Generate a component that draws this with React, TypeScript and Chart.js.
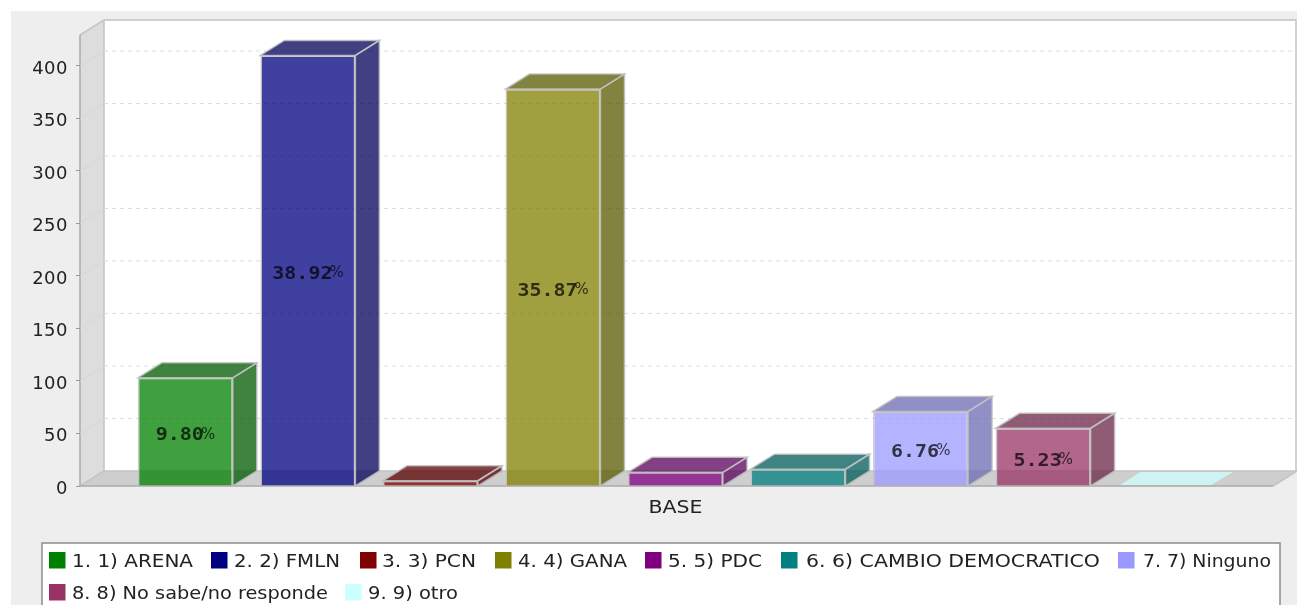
import React, { useEffect, useRef } from "react";
import { Chart, registerables } from "chart.js";

Chart.register(...registerables);

const categories = ["BASE"];
const seriesNames = [
  "1. 1) ARENA",
  "2. 2) FMLN",
  "3. 3) PCN",
  "4. 4) GANA",
  "5. 5) PDC",
  "6. 6) CAMBIO DEMOCRATICO",
  "7. 7) Ninguno",
  "8. 8) No sabe/no responde",
  "9. 9) otro",
];
const seriesValues = [103, 410, 5, 378, 13, 16, 71, 55, 0];
const percentLabels = ["9.80", "38.92", "", "35.87", "", "", "6.76", "5.23", ""];
const seriesRgb = [
  [0, 128, 0],
  [0, 0, 128],
  [128, 0, 0],
  [128, 128, 0],
  [128, 0, 128],
  [0, 128, 128],
  [153, 153, 255],
  [153, 51, 102],
  [204, 255, 255],
];
const yTicks = [0, 50, 100, 150, 200, 250, 300, 350, 400];

// legend layout, not data: swatch left, text left, text right, row
const legendSlots = [
  [49, 72, 193, 0],
  [211, 234, 340, 0],
  [360, 382, 476, 0],
  [495, 518, 627, 0],
  [645, 668, 762, 0],
  [781, 806, 1100, 0],
  [1118, 1143, 1271, 0],
  [49, 72, 328, 1],
  [345, 368, 458, 1],
];
const legendRowY = [561, 593];

const DEPTH_X = 24;
const DEPTH_Y = 15;
const RIGHT_EXTRA = 2;
const FONT = "'DejaVu Sans'";

const rgba = (c: number[], a: number, f = 1) =>
  `rgba(${Math.round(c[0] * f)},${Math.round(c[1] * f)},${Math.round(c[2] * f)},${a})`;

function poly(ctx: CanvasRenderingContext2D, pts: number[][]) {
  ctx.beginPath();
  pts.forEach((p, i) => (i ? ctx.lineTo(p[0], p[1]) : ctx.moveTo(p[0], p[1])));
  ctx.closePath();
}

// the reference's type is wider than the font's natural width: stretch to fit
function fitText(ctx: any, text: string, x0: number, x1: number, y: number) {
  const w = ctx.measureText(text).width;
  ctx.save();
  ctx.translate(x0, y);
  ctx.scale((x1 - x0) / w, 1);
  ctx.fillText(text, 0, 0);
  ctx.restore();
}

const scenePlugin = {
  id: "scene",
  beforeDraw(chart: any) {
    const { ctx, chartArea: a, scales } = chart;
    const { left: l, top: t, bottom: b } = a;
    const r = a.right + RIGHT_EXTRA;
    (ctx as any).letterSpacing = "0px";
    ctx.save();
    ctx.fillStyle = "#eeeeee";
    ctx.fillRect(11, 11, chart.width - 11, chart.height - 11);
    // legend frame and entries
    ctx.fillStyle = "#ffffff";
    ctx.strokeStyle = "#8c8c8c";
    ctx.lineWidth = 1.5;
    ctx.fillRect(42, 543, 1238, 80);
    ctx.strokeRect(42, 543, 1238, 80);
    ctx.textBaseline = "middle";
    ctx.textAlign = "left";
    ctx.font = `18px ${FONT}`;
    seriesNames.forEach((name, i) => {
      const [bx, tx0, tx1, row] = legendSlots[i];
      const cy = legendRowY[row];
      ctx.fillStyle = rgba(seriesRgb[i], 1);
      ctx.fillRect(bx, cy - 9, 16.5, 16.5);
      ctx.fillStyle = "#222222";
      fitText(ctx, name, tx0, tx1, cy + 1);
    });
    // back wall
    ctx.fillStyle = "#ffffff";
    ctx.fillRect(l + DEPTH_X, t - DEPTH_Y, r - l, b - t);
    // left wall
    poly(ctx, [[l, t], [l + DEPTH_X, t - DEPTH_Y], [l + DEPTH_X, b - DEPTH_Y], [l, b]]);
    ctx.fillStyle = "#dddddd";
    ctx.fill();
    // floor
    poly(ctx, [[l, b], [l + DEPTH_X, b - DEPTH_Y], [r + DEPTH_X, b - DEPTH_Y], [r, b]]);
    ctx.fillStyle = "#cecece";
    ctx.fill();
    // wall outlines
    ctx.strokeStyle = "#c4c4c4";
    ctx.lineWidth = 1.5;
    ctx.beginPath();
    ctx.moveTo(l, t);
    ctx.lineTo(l + DEPTH_X, t - DEPTH_Y);
    ctx.lineTo(r + DEPTH_X - 1, t - DEPTH_Y);
    ctx.lineTo(r + DEPTH_X - 1, b - DEPTH_Y);
    ctx.moveTo(l + DEPTH_X, t - DEPTH_Y);
    ctx.lineTo(l + DEPTH_X, b - DEPTH_Y);
    ctx.lineTo(r + DEPTH_X, b - DEPTH_Y);
    ctx.lineTo(r, b);
    ctx.moveTo(l, b);
    ctx.lineTo(l + DEPTH_X, b - DEPTH_Y);
    ctx.stroke();
    ctx.strokeStyle = "#aaaaaa";
    ctx.beginPath();
    ctx.moveTo(l, t);
    ctx.lineTo(l, b);
    ctx.lineTo(r, b);
    ctx.stroke();
    // grid lines on the walls
    const y = scales.y;
    ctx.lineWidth = 1;
    yTicks.forEach((v) => {
      if (v === 0) return;
      const p = y.getPixelForValue(v);
      ctx.setLineDash([]);
      ctx.strokeStyle = "#d6d6d6";
      ctx.beginPath();
      ctx.moveTo(l, p);
      ctx.lineTo(l + DEPTH_X, p - DEPTH_Y);
      ctx.stroke();
      ctx.setLineDash([4, 4]);
      ctx.strokeStyle = "#dcdcdc";
      ctx.beginPath();
      ctx.moveTo(l + DEPTH_X, p - DEPTH_Y);
      ctx.lineTo(r + DEPTH_X, p - DEPTH_Y);
      ctx.stroke();
    });
    ctx.restore();
    (ctx as any).letterSpacing = "0.5px";
  },
  beforeDatasetsDraw(chart: any) {
    const { ctx, scales } = chart;
    (ctx as any).letterSpacing = "0px";
    const zero = scales.y.getPixelForValue(0);
    ctx.save();
    chart.data.datasets.forEach((ds: any, i: number) => {
      const el = chart.getDatasetMeta(i).data[0];
      const x0 = el.x - el.width / 2;
      const x1 = el.x + el.width / 2;
      const top = el.y;
      const rgb = seriesRgb[i];
      const top3d = [[x0, top], [x0 + DEPTH_X, top - DEPTH_Y], [x1 + DEPTH_X, top - DEPTH_Y], [x1, top]];
      const side = [[x1, top], [x1 + DEPTH_X, top - DEPTH_Y], [x1 + DEPTH_X, zero - DEPTH_Y], [x1, zero]];
      if (ds.data[0] === 0) {
        // a zero bar is only its lid, lying on the floor
        poly(ctx, [
          [x0 + 2, top - 1],
          [x0 + DEPTH_X - 2, top - DEPTH_Y + 1],
          [x1 + DEPTH_X - 4, top - DEPTH_Y + 1],
          [x1 - 2, top - 1],
        ]);
        ctx.fillStyle = rgba(rgb, 0.75);
        ctx.fill();
        return;
      }
      ctx.fillStyle = rgba(rgb, 0.75, 0.7);
      poly(ctx, side);
      ctx.fill();
      poly(ctx, top3d);
      ctx.fill();
      ctx.strokeStyle = "rgba(192,192,192,0.85)";
      ctx.lineWidth = 1.5;
      poly(ctx, side);
      ctx.stroke();
      poly(ctx, top3d);
      ctx.stroke();
    });
    ctx.restore();
  },
  afterDatasetsDraw(chart: any) {
    const { ctx, scales } = chart;
    ctx.save();
    ctx.textBaseline = "middle";
    ctx.textAlign = "left";
    ctx.fillStyle = "rgba(0,0,0,0.72)";
    percentLabels.forEach((txt, i) => {
      if (!txt) return;
      const el = chart.getDatasetMeta(i).data[0];
      const cy = (el.y + el.base) / 2 + 4;
      ctx.font = `bold 18px 'DejaVu Sans Mono'`;
      const w = ctx.measureText(txt).width * 1.11;
      const x = el.x - (w + 11) / 2;
      fitText(ctx, txt, x, x + w, cy);
      ctx.font = `15px ${FONT}`;
      ctx.fillText("%", x + w - 3, cy - 1);
    });
    // the category label comes from the x scale
    ctx.font = `18px ${FONT}`;
    ctx.fillStyle = "#222222";
    const sx = scales.x;
    const label = sx.getLabels()[0];
    const cx = sx.getPixelForTick(0);
    fitText(ctx, label, cx - 27, cx + 27, 508);
    ctx.restore();
  },
};

export default function App() {
  const ref = useRef<HTMLCanvasElement>(null);
  useEffect(() => {
    document.body.style.margin = "0";
    document.body.style.background = "#ffffff";
    const chart = new Chart(ref.current!, {
      type: "bar",
      data: {
        labels: categories,
        datasets: seriesNames.map((name, i) => ({
          label: name,
          data: [seriesValues[i]],
          backgroundColor: rgba(seriesRgb[i], 0.75),
          borderColor: seriesValues[i] === 0 ? "rgba(0,0,0,0)" : "rgba(192,192,192,0.85)",
          borderWidth: 1.5,
        })),
      },
      options: {
        animation: false,
        responsive: false,
        categoryPercentage: 0.926,
        barPercentage: 0.775,
        layout: { padding: { left: 33, right: 26, top: 35, bottom: 0 } },
        scales: {
          x: {
            afterFit: (s: any) => {
              s.height = 119;
            },
            grid: { display: false },
            border: { display: false },
            ticks: { display: false },
          },
          y: {
            min: 0,
            max: 429.5,
            afterFit: (s: any) => {
              s.width = 47;
            },
            afterBuildTicks: (s: any) => {
              s.ticks = yTicks.map((value) => ({ value }));
            },
            grid: { drawOnChartArea: false, drawTicks: true, tickLength: 4, color: "#999999" },
            border: { display: false },
            ticks: { color: "#222222", padding: 8, labelOffset: 3, font: { family: FONT, size: 18 } },
          },
        },
        plugins: {
          tooltip: { enabled: false },
          legend: { display: false },
        },
      } as any,
      plugins: [scenePlugin],
    });
    return () => chart.destroy();
  }, []);
  return (
    <canvas
      ref={ref}
      width={1297}
      height={605}
      style={{ display: "block", width: 1297, height: 605, filter: "blur(0.45px)" }}
    />
  );
}
